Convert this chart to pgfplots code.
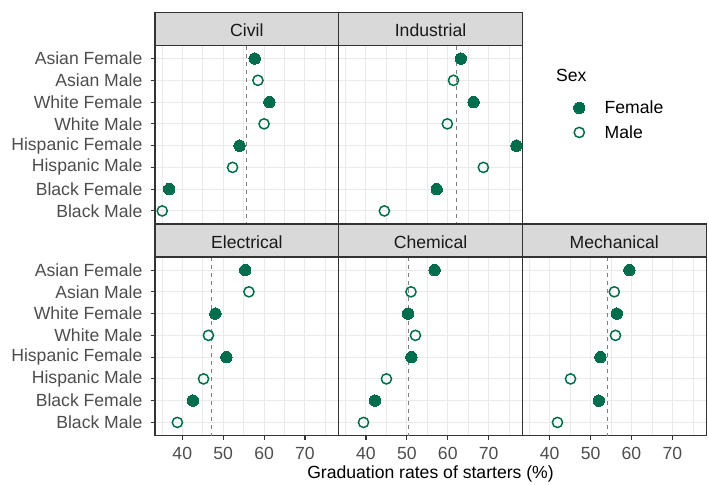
\documentclass[border=0pt]{standalone}
\usepackage{pgfplots}
\usepackage{pgfplotstable}
\pgfplotsset{compat=1.18}
\usepackage{fontspec}
\setmainfont{Liberation Sans}

\definecolor{dotgreen}{RGB}{0,110,76}
\definecolor{grey20}{RGB}{51,51,51}
\definecolor{grey30}{RGB}{77,77,77}
\definecolor{grey50}{RGB}{127,127,127}
\definecolor{grey85}{RGB}{217,217,217}
\definecolor{gridgrey}{RGB}{234,234,234}

\newcommand\chartfont{\fontsize{17.6bp}{21bp}\selectfont}

% k: 1 Asian, 2 White, 3 Hispanic, 4 Black; F = female rate, M = male rate
\pgfplotstableread{
k F M
1 57.7 58.5
2 61.3 60.0
3 54.0 52.3
4 36.8 35.1
}\civil
\pgfplotstableread{
k F M
1 63.2 61.4
2 66.3 59.9
3 76.8 68.7
4 57.3 44.5
}\industrial
\pgfplotstableread{
k F M
1 55.4 56.3
2 48.1 46.4
3 50.8 45.2
4 42.6 38.8
}\electrical
\pgfplotstableread{
k F M
1 56.8 51.0
2 50.3 52.1
3 51.1 45.0
4 42.2 39.4
}\chemical
\pgfplotstableread{
k F M
1 59.5 55.8
2 56.4 56.1
3 52.4 45.1
4 52.0 41.9
}\mechanical

\pgfplotsset{
  panel/.style={
    scale only axis, width=183.7bp, height=178.5bp,
    anchor=north west,
    xmin=33.33, xmax=78.25, ymin=0.4, ymax=8.6, y dir=reverse,
    xtick={40,50,60,70}, minor xtick={35,45,55,65,75}, ytick={1,...,8},
    xtick pos=bottom, ytick pos=left,
    grid=both,
    major grid style={gridgrey, line width=1.0bp},
    minor grid style={gridgrey, line width=0.5bp},
    axis line style={grey20, line width=1.1bp},
    major tick style={grey20, line width=1.1bp},
    major tick length=4.4bp, minor tick length=0pt,
    tick align=outside,
    xmajorticks=false, ymajorticks=false,
    ticklabel style={font=\chartfont, text=grey30},
    xticklabel style={inner sep=0pt, yshift=-7.5bp},
    yticklabel style={inner sep=0pt, xshift=-8bp},
    /pgf/number format/assume math mode=true,
    clip=false,
  },
  femalepts/.style={only marks, mark=*, mark size=5.7bp,
    mark options={fill=dotgreen, draw=dotgreen, line width=0pt}},
  malepts/.style={only marks, mark=o, mark size=5.1bp,
    mark options={fill=white, draw=dotgreen, line width=1.5bp}},
}

% reference line, then the female and male rates of one discipline
\newcommand\panelplots[2]{%
  \addplot[grey50, line width=0.8bp, dash pattern=on 4bp off 4bp, forget plot]
    coordinates {(#2,0.4) (#2,8.6)};
  \addplot[femalepts] table[x=F, y expr=2*\thisrow{k}-1] {#1};
  \addplot[malepts] table[x=M, y expr=2*\thisrow{k}] {#1};
}

\newcommand\strip[3]{% left x, top y, label
  \draw[grey20, fill=grey85, line width=1.1bp]
    (#1bp,-#2bp) rectangle ++(183.7bp,-33bp);
  \node[anchor=base, inner sep=0pt, font=\chartfont, text=black!90]
    at ([xshift=91.85bp,yshift=-24.2bp]#1bp,-#2bp) {#3};
}

\begin{document}
\begin{tikzpicture}
\path[use as bounding box] (0,0) rectangle (709bp,-485bp);

% top row
\begin{axis}[panel, at={(155bp,-45.5bp)}, ymajorticks=true,
  yticklabels={Asian Female, Asian Male, White Female, White Male,
    Hispanic Female, Hispanic Male, Black Female, Black Male}]
  \panelplots{\civil}{55.6}
\end{axis}

\begin{axis}[panel, at={(338.7bp,-45.5bp)},
  legend style={at={(1.2775,0.582)}, anchor=west, draw=none, fill=none,
    inner xsep=0pt, inner ysep=0pt, font=\chartfont,
    row sep=6.4bp, column sep=17.7bp,
    nodes={inner sep=2pt, text depth=0.15em}},
  legend cell align=left]
  \panelplots{\industrial}{62.2}
  \legend{Female, Male}
\end{axis}

% bottom row
\begin{axis}[panel, at={(155bp,-257bp)}, ymajorticks=true, xmajorticks=true,
  yticklabels={Asian Female, Asian Male, White Female, White Male,
    Hispanic Female, Hispanic Male, Black Female, Black Male}]
  \panelplots{\electrical}{47.2}
\end{axis}

\begin{axis}[panel, at={(338.7bp,-257bp)}, xmajorticks=true]
  \panelplots{\chemical}{50.4}
\end{axis}

\begin{axis}[panel, at={(522.4bp,-257bp)}, xmajorticks=true]
  \panelplots{\mechanical}{54.0}
\end{axis}

% facet strips
\strip{155}{12.5}{Civil}
\strip{338.7}{12.5}{Industrial}
\strip{155}{224}{Electrical}
\strip{338.7}{224}{Chemical}
\strip{522.4}{224}{Mechanical}

% legend title and axis title
\node[anchor=base west, inner sep=0pt, font=\chartfont] at (556bp,-81.7bp) {Sex};
\node[anchor=base, inner sep=0pt, font=\chartfont] at (430.5bp,-478.3bp)
  {Graduation rates of starters (\%)};
\end{tikzpicture}
\end{document}
